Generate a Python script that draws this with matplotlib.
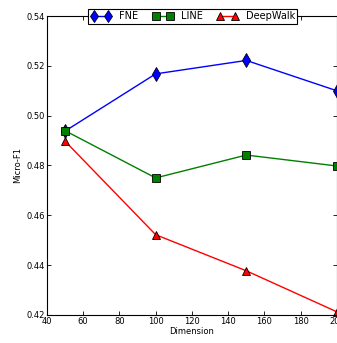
import matplotlib
matplotlib.use("Agg")
import matplotlib.pyplot as plt

dims = [50, 100, 150, 200]
fne = [0.4938, 0.5168, 0.5222, 0.5100]
line = [0.4940, 0.4750, 0.4842, 0.4798]
deepwalk = [0.4898, 0.4522, 0.4377, 0.4212]

fig = plt.figure(figsize=(3.37, 3.43), dpi=100)
ax = fig.add_axes([0.139, 0.082, 0.861, 0.871])

ax.plot(dims, fne, color='blue', marker='d', markersize=7, markeredgecolor='black', markeredgewidth=0.6, lw=1.0, label='FNE', clip_on=False)
ax.plot(dims, line, color='green', marker='s', markersize=6, markeredgecolor='black', markeredgewidth=0.6, lw=1.0, label='LINE', clip_on=False)
ax.plot(dims, deepwalk, color='red', marker='^', markersize=6, markeredgecolor='black', markeredgewidth=0.6, lw=1.0, label='DeepWalk', clip_on=False)

ax.set_xlim(40, 200)
ax.set_ylim(0.42, 0.54)
ax.set_xticks([40, 60, 80, 100, 120, 140, 160, 180, 200])
ax.set_yticks([0.42, 0.44, 0.46, 0.48, 0.50, 0.52, 0.54])
ax.set_yticklabels(['0.42', '0.44', '0.46', '0.48', '0.50', '0.52', '0.54'])
ax.tick_params(direction='in', top=True, right=True, labelsize=6, length=3, width=0.6, pad=1.5)
for s in ax.spines.values():
    s.set_linewidth(0.8)
ax.set_xlabel('Dimension', fontsize=6, labelpad=1)
ax.set_ylabel('Micro-F1', fontsize=6, labelpad=3)

leg = ax.legend(loc='center', bbox_to_anchor=(0.503, 1.0), ncol=3, fontsize=7, numpoints=2,
                frameon=True, fancybox=False, edgecolor='black', framealpha=1,
                borderpad=0.25, handlelength=2.1, handletextpad=0.8, columnspacing=1.5,
                borderaxespad=0, markerscale=0.85)
leg.get_frame().set_linewidth(0.8)

fig.savefig('out.png', dpi=100)
